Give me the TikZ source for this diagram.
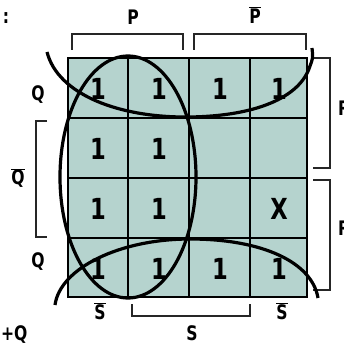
\documentclass[tikz,border=0pt]{standalone}
\usepackage{fontspec}
\newfontfamily\kfont{DejaVu Sans}[BoldFont={DejaVu Sans Bold}]
\begin{document}
\begin{tikzpicture}[x=1pt,y=-1pt,
  grid/.style={draw=black,line width=1.3pt},
  brk/.style={draw=black!85,line width=1.2pt},
  loop/.style={draw=black,line width=3.2pt},
  cell/.style={font=\kfont\bfseries\fontsize{29}{29}\selectfont,xscale=0.78,inner sep=0pt},
  lab/.style={font=\kfont\bfseries\fontsize{20}{20}\selectfont,xscale=0.78,inner sep=0pt}]
\useasboundingbox (0,0) rectangle (344,344);
\clip (0,0) rectangle (344,344);
\fill[white] (0,0) rectangle (344,344);
% grid
\fill[fill={rgb,255:red,181;green,211;blue,206}] (68,58) rectangle (307,297);
\draw[grid] (68,58) rectangle (307,297);
\foreach \x in {128,189,250} \draw[grid] (\x,58) -- (\x,297);
\foreach \y in {118,178,238} \draw[grid] (68,\y) -- (307,\y);
% cells
\node[cell] (c11) at (98,89) {1};
\node[cell] (c12) at (159,89) {1};
\node[cell] (c13) at (220,89) {1};
\node[cell] (c14) at (279,89) {1};
\node[cell] (c21) at (98,149) {1};
\node[cell] (c22) at (159,149) {1};
\node[cell] (c31) at (98,209) {1};
\node[cell] (c32) at (159,209) {1};
\node[cell] (c34) at (279,209) {X};
\node[cell] (c41) at (98,269) {1};
\node[cell] (c42) at (159,269) {1};
\node[cell] (c43) at (220,269) {1};
\node[cell] (c44) at (279,269) {1};
% top brackets
\draw[brk] (72,50) -- (72,34) -- (183,34) -- (183,50);
\draw[brk] (194,50) -- (194,34) -- (306,34) -- (306,50);
\node[lab] (p) at (133,17) {P};
\node[lab] (pb) at (255,15) {$\overline{\hbox{\kfont\bfseries P}}$};
% left
\node[lab] (q1) at (38,95) {Q};
\draw[brk] (47,121) -- (36,121) -- (36,237) -- (47,237);
\node[lab] (qb) at (18,178) {$\overline{\hbox{\kfont\bfseries Q}}$};
\node[lab] (q2) at (38,262) {Q};
% right brackets
\draw[brk] (313,58) -- (330,58) -- (330,168) -- (313,168);
\draw[brk] (313,180) -- (330,180) -- (330,290) -- (313,290);
\node[lab,anchor=west] (r1) at (338,108) {R};
\node[lab,anchor=west] (r2) at (338,228) {R};
% bottom
\node[lab] (sbar1) at (100,311) {$\overline{\hbox{\kfont\bfseries S}}$};
\node[lab] (sbar2) at (282,311) {$\overline{\hbox{\kfont\bfseries S}}$};
\draw[brk] (132,304) -- (132,316) -- (250,316) -- (250,304);
\node[lab] (s) at (192,333) {S};
\node[lab,anchor=west] (pq) at (1,335) {+Q};
\node[lab] (colon) at (6,18) {:};
% loops
\draw[loop] (128,177) ellipse [x radius=68, y radius=121];
\draw[loop] (47,52) .. controls (58,95) and (120,118) .. (190,117)
  .. controls (255,116) and (300,98) .. (310,66) .. controls (313,58) .. (312,48);
\draw[loop] (55,305) .. controls (60,268) and (120,239) .. (190,239)
  .. controls (262,239) and (312,262) .. (318,298);
\end{tikzpicture}
\end{document}
